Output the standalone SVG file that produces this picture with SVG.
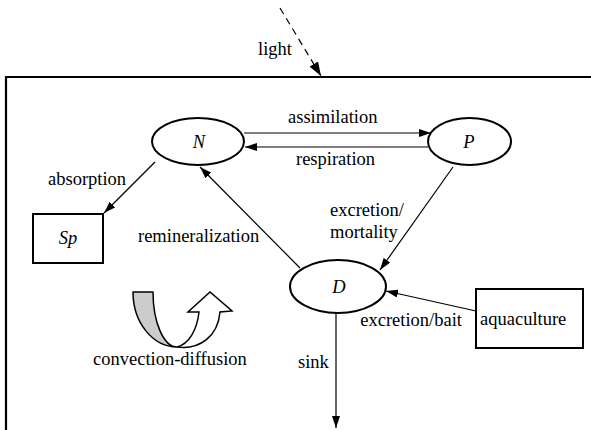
<svg xmlns="http://www.w3.org/2000/svg" width="591" height="430" viewBox="0 0 591 430">
<defs>
<style>
text{font-family:"Liberation Serif","Times New Roman",serif;font-size:18.5px;fill:#000}
.it{font-style:italic;text-anchor:middle}
.node{fill:#fff;stroke:#000;stroke-width:2}
.edge{fill:none;stroke:#000;stroke-width:1.2}
</style>
<marker id="ah" viewBox="0 0 12 8" refX="12" refY="4" markerWidth="12" markerHeight="8" markerUnits="userSpaceOnUse" orient="auto">
<path d="M0,0 L12,4 L0,8 Z" fill="#000"/>
</marker>
<marker id="ahL" viewBox="0 0 14 10" refX="14" refY="5" markerWidth="14" markerHeight="10" markerUnits="userSpaceOnUse" orient="auto">
<path d="M0,0 L14,5 L0,10 Z" fill="#000"/>
</marker>
</defs>
<rect width="591" height="430" fill="#fff"/>
<g id="domain">
<path d="M6,432 L6,77 L595,77" fill="none" stroke="#000" stroke-width="2.2"/>
</g>
<g id="connectors">
<line class="edge" x1="280" y1="8" x2="321" y2="76" stroke-dasharray="7,5" marker-end="url(#ahL)"/>
<line class="edge" x1="244" y1="133" x2="431" y2="133" marker-end="url(#ah)"/>
<line class="edge" x1="428" y1="147" x2="245" y2="147" marker-end="url(#ah)"/>
<line class="edge" x1="155" y1="162" x2="104" y2="213" marker-end="url(#ah)"/>
<line class="edge" x1="300" y1="268" x2="200" y2="167" marker-end="url(#ah)"/>
<line class="edge" x1="453" y1="167" x2="380" y2="270" marker-end="url(#ah)"/>
<line class="edge" x1="476" y1="311" x2="386" y2="291" marker-end="url(#ah)"/>
<line class="edge" x1="336" y1="312" x2="336" y2="428" marker-end="url(#ah)"/>
</g>
<g id="N"><ellipse class="node" cx="198" cy="141.5" rx="46" ry="23.5"/><text class="it" x="199" y="148">N</text></g>
<g id="P"><ellipse class="node" cx="469.5" cy="141.5" rx="41.5" ry="23.5"/><text class="it" x="469" y="148">P</text></g>
<g id="D"><ellipse class="node" cx="338" cy="286.5" rx="48" ry="26.5"/><text class="it" x="339" y="293">D</text></g>
<g id="Sp"><rect class="node" x="33" y="214" width="70" height="49"/><text class="it" x="68" y="244">Sp</text></g>
<g id="aquaculture"><rect class="node" x="476" y="289" width="107" height="59"/><text x="480" y="325">aquaculture</text></g>
<g id="convection">
<path d="M133,292 L153,292 A24,55 0 0 0 177,347 A44,55 0 0 1 133,292 Z" fill="#cccccc" stroke="#000" stroke-width="1.5" stroke-linejoin="round"/>
<path d="M177,347 C189,344 197,330 199,312 L188,312 L210,292 L232,311 L220,312 C218,336 200,350 177,347 Z" fill="#fff" stroke="#000" stroke-width="1.5" stroke-linejoin="miter"/>
</g>
<g id="labels">
<text x="258" y="55">light</text>
<text x="288" y="123">assimilation</text>
<text x="296" y="165">respiration</text>
<text x="48" y="185">absorption</text>
<text x="138" y="242">remineralization</text>
<text x="330" y="216">excretion/</text>
<text x="330" y="238">mortality</text>
<text x="462" y="326" text-anchor="end">excretion/bait</text>
<text x="298" y="368">sink</text>
<text x="93" y="365">convection-diffusion</text>
</g>
</svg>
